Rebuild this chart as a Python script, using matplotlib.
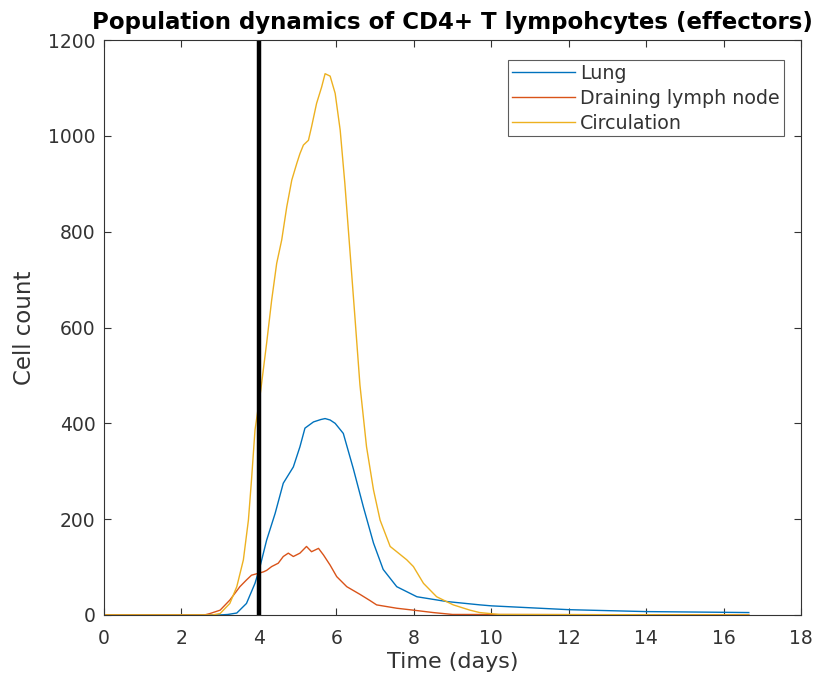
import numpy as np
import matplotlib
matplotlib.use("Agg")
import matplotlib.pyplot as plt

# data
lung_t = [0, 3.0, 3.2, 3.43, 3.68, 3.9, 4.03, 4.2, 4.42, 4.63, 4.89, 5.06, 5.19, 5.41,
          5.6, 5.71, 5.84, 5.97, 6.18, 6.44, 6.7, 6.96, 7.21, 7.56, 8.08, 8.85, 9.71,
          10.0, 12.0, 14.0, 16.0, 16.65]
lung_y = [0, 0, 1, 4, 24, 66, 101, 156, 212, 275, 309, 351, 390, 403,
          408, 410, 407, 400, 379, 305, 225, 150, 95, 59, 38, 28, 21,
          19, 11, 7, 5.5, 5]

dln_t = [0, 2.6, 2.74, 3.0, 3.25, 3.51, 3.68, 3.81, 3.99, 4.12, 4.2, 4.33, 4.5, 4.63,
         4.76, 4.89, 5.06, 5.23, 5.36, 5.54, 5.67, 5.84, 6.01, 6.27, 6.61, 6.87, 7.04,
         7.56, 7.99, 8.5, 9.0, 16.65]
dln_y = [0, 0, 3, 10, 31, 59, 73, 83, 87, 90, 93, 101, 108, 122,
         129, 122, 129, 143, 132, 139, 125, 104, 80, 59, 43, 30, 21,
         14, 10, 5, 1, 0]

circ_t = [0, 2.8, 3.0, 3.25, 3.43, 3.6, 3.73, 3.81, 3.9, 4.05, 4.2, 4.33, 4.46, 4.59,
          4.72, 4.85, 4.98, 5.06, 5.15, 5.28, 5.36, 5.49, 5.62, 5.71, 5.84, 5.97, 6.1,
          6.22, 6.35, 6.48, 6.61, 6.78, 6.96, 7.13, 7.39, 7.56, 7.82, 7.99, 8.25, 8.59,
          9.02, 9.45, 9.7, 10.2, 16.65]
circ_y = [0, 0, 3, 24, 59, 115, 198, 282, 386, 470, 567, 657, 734, 783,
          852, 908, 943, 963, 981, 991, 1019, 1068, 1102, 1130, 1125, 1089, 1012,
          901, 762, 622, 480, 351, 261, 198, 143, 132, 115, 101, 66, 38,
          21, 10, 5, 1, 0]

marker_day = 4

fig = plt.figure(figsize=(8.25, 6.81), dpi=100)
ax = fig.add_axes([0.126, 0.097, 0.845, 0.844])

ax.plot(lung_t, lung_y, color="#0072BD", lw=1.0, label="Lung")
ax.plot(dln_t, dln_y, color="#D95319", lw=1.0, label="Draining lymph node")
ax.plot(circ_t, circ_y, color="#EDB120", lw=1.0, label="Circulation")
ax.plot([marker_day, marker_day], [0, 1200], color="black", lw=3.2)

ax.set_xlim(0, 18)
ax.set_ylim(0, 1200)
ax.set_xticks(np.arange(0, 19, 2))
ax.set_yticks(np.arange(0, 1201, 200))

grey = "#333333"
ax.tick_params(direction="in", top=True, right=True, length=5, width=0.8,
               labelsize=13.5, colors=grey, pad=6)
ax.tick_params(axis="x", pad=10)
for s in ax.spines.values():
    s.set_color(grey)
    s.set_linewidth(0.8)

ax.set_xlabel("Time (days)", fontsize=16, color=grey, labelpad=3)
ax.set_ylabel("Cell count", fontsize=16.5, color=grey, labelpad=9)
ax.set_title("Population dynamics of CD4+ T lympohcytes (effectors)",
             fontsize=16.5, fontweight="bold", pad=8)

leg = ax.legend(loc="upper right", bbox_to_anchor=(0.975, 0.965), fontsize=13.7,
                frameon=True, fancybox=False, handlelength=3.3, handletextpad=0.3,
                borderpad=0.2, labelspacing=0.3, borderaxespad=0)
leg.get_frame().set_edgecolor(grey)
leg.get_frame().set_linewidth(0.8)
for t in leg.get_texts():
    t.set_color(grey)

fig.savefig("out.png", dpi=100)
